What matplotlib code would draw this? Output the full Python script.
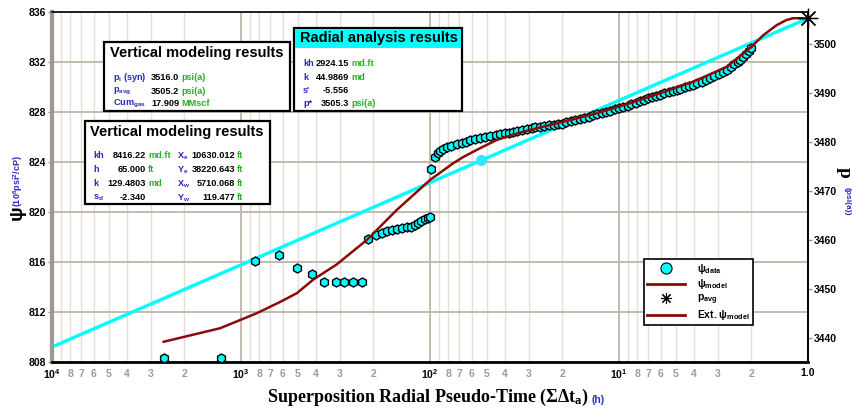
import matplotlib
matplotlib.use('Agg')
import matplotlib.pyplot as plt
from matplotlib.lines import Line2D
from matplotlib.patches import Rectangle
from matplotlib.ticker import FixedLocator

plt.rcParams['font.family'] = ['Liberation Sans', 'DejaVu Sans']
plt.rcParams['font.weight'] = 'bold'
plt.rcParams['mathtext.default'] = 'regular'

# --- data ---
# early-time psi points (t in h, psi in 1e6 psi2/cP)
early_t = [2565, 1271, 843, 632, 506, 423, 362, 315, 284, 255, 228]
early_psi = [808.30, 808.30, 816.08, 816.54, 815.52, 815.06, 814.42, 814.42, 814.42, 814.42, 814.42]

mid_t = [214, 194, 180, 169, 159, 150, 141, 132, 126, 120.5, 115.7, 111.2, 106.7, 102.5, 99.6, 98.4]
mid_psi = [817.82, 818.14, 818.30, 818.48, 818.58, 818.66, 818.72, 818.78, 818.82, 818.96,
           819.14, 819.30, 819.46, 819.54, 819.60, 823.44]

late_t = [94, 91, 88.5, 85, 81.3, 77, 72, 68, 64.5, 61.4, 58, 54.4, 51, 48, 45, 42.6, 40, 38,
          36.4, 34.5, 32.5, 30.5, 29, 27.8, 26.2, 24.8, 23.5, 22.2, 21, 20, 19, 18, 17, 16.1,
          15.3, 14.5, 13.7, 13, 12.3, 11.7, 11.1, 10.5, 10, 9.5, 9.0, 8.6, 8.15, 7.74, 7.35,
          7.0, 6.65, 6.35, 6.07, 5.75, 5.45, 5.2, 4.96, 4.76, 4.5, 4.28, 4.06, 3.85, 3.66,
          3.47, 3.30, 3.13, 2.97, 2.82, 2.68, 2.56, 2.45, 2.36, 2.29, 2.21, 2.13, 2.06, 2.00]
late_psi = [824.42, 824.68, 824.88, 825.02, 825.16, 825.28, 825.40, 825.52, 825.62, 825.72,
            825.80, 825.90, 825.98, 826.06, 826.13, 826.20, 826.28, 826.35, 826.42, 826.50,
            826.57, 826.64, 826.70, 826.76, 826.82, 826.88, 826.93, 826.98, 827.02, 827.07,
            827.16, 827.25, 827.35, 827.44, 827.53, 827.62, 827.72, 827.82, 827.92, 828.02,
            828.11, 828.20, 828.30, 828.40, 828.50, 828.60, 828.74, 828.88, 828.98, 829.08,
            829.19, 829.28, 829.36, 829.48, 829.59, 829.68, 829.76, 829.84, 829.96, 830.06,
            830.16, 830.28, 830.42, 830.56, 830.70, 830.86, 831.03, 831.20, 831.36, 831.58,
            831.80, 831.98, 832.16, 832.40, 832.64, 832.88, 833.10]

model_t = [2565, 1291, 826, 622, 507, 414, 312, 216, 150, 100, 94.1, 75.4, 66.7, 54.4, 44.4,
           36.2, 29.6, 19.7, 13.1, 8.75, 6.07, 4.05, 2.69, 1.99]
model_psi = [809.62, 810.7, 811.9, 812.8, 813.5, 814.6, 815.8, 817.76, 820.16, 822.56, 822.85,
             823.9, 824.4, 825.1, 825.76, 826.2, 826.56, 827.22, 827.9, 828.7, 829.5, 830.42,
             831.62, 833.22]

ext_t = [1.99, 1.72, 1.46, 1.30, 1.20, 1.0]
ext_psi = [833.22, 834.16, 834.96, 835.36, 835.5, 835.5]

# radial straight line and its marker
line_t = [1e4, 1.0]
line_psi = [809.2, 835.5]
mark_t = [54]
mark_psi = [824.16]

pavg_t = [1.0]
pavg_p = [3505.2]

psi_ticks = [808, 812, 816, 820, 824, 828, 832, 836]
p_ticks = [3440, 3450, 3460, 3470, 3480, 3490, 3500]
major_x = [1e4, 1e3, 1e2, 1e1, 1.0]
major_x_labels = ['$10^4$', '$10^3$', '$10^2$', '$10^1$', '1.0']

MODEL = '#8B0A0A'
BLUE = '#2828C8'
GREEN = '#22B422'

W, H = 853, 409
fig = plt.figure(figsize=(W / 100, H / 100), dpi=100)
ax = fig.add_axes([52 / W, 47 / H, 756 / W, 350 / H])

ax.plot(line_t, line_psi, color='cyan', lw=2.4, zorder=2)
ax.plot(mark_t, mark_psi, 'o', color='#30E8FF', ms=8, mec='none', zorder=2)
data_t = early_t + mid_t + late_t
data_psi = early_psi + mid_psi + late_psi
ax.plot(data_t, data_psi, 'h', ls='none', mfc='cyan', mec='black', mew=1.0, ms=6.5, zorder=3)
ax.plot(model_t, model_psi, color=MODEL, lw=1.8, zorder=4)
ax.plot(ext_t, ext_psi, color=MODEL, lw=1.8, zorder=4)

ax.set_xscale('log')
ax.set_xlim(1e4, 1.0)
ax.set_ylim(808, 836)
ax.set_yticks(psi_ticks)
ax.set_xticks(major_x)
ax.set_xticklabels(major_x_labels)
minor_pos, minor_lab = [], []
for d in [1, 10, 100, 1000]:
    for k in range(2, 10):
        minor_pos.append(k * d)
        minor_lab.append(str(k) if k < 9 else '')
ax.xaxis.set_minor_locator(FixedLocator(minor_pos))
ax.set_xticks(minor_pos, minor_lab, minor=True)
ax.tick_params(axis='x', which='both', length=0, pad=5, labelsize=7.5)
ax.tick_params(axis='x', which='major', pad=4)
ax.tick_params(axis='x', which='minor', labelcolor='#9a9a9a')
ax.tick_params(axis='y', length=3, width=1, color='#9E988E', pad=1, labelsize=7.5)
ax.grid(True, which='major', axis='both', color='#BDB6A8', lw=1.3, zorder=0)
ax.grid(True, which='minor', axis='x', color='#E2DED8', lw=1.0, zorder=0)
ax.set_axisbelow(True)
ax.spines['left'].set_color('#9E988E')
ax.spines['left'].set_linewidth(3)
ax.spines['bottom'].set_linewidth(2)
ax.spines['top'].set_linewidth(1.2)
ax.spines['right'].set_linewidth(1.2)

ax2 = ax.twinx()
ax2.set_ylim(3435.0, 3506.5)
ax2.set_yticks(p_ticks)
ax2.tick_params(axis='y', length=3, width=1, color='#9E988E', pad=1, labelsize=7.5)
for s in ['left', 'top', 'bottom']:
    ax2.spines[s].set_visible(False)
ax2.spines['right'].set_linewidth(1.2)
ax2.plot(pavg_t, pavg_p, marker=(8, 2, 0), color='black', ms=14, mew=0.9, ls='none',
         clip_on=False, zorder=5)

handles = [
    Line2D([], [], marker='o', ls='none', mfc='cyan', mec='black', mew=0.8, ms=8),
    Line2D([], [], color=MODEL, lw=2),
    Line2D([], [], marker=(8, 2, 0), ls='none', color='black', ms=8, mew=0.8),
    Line2D([], [], color=MODEL, lw=2),
]
labels = ['ψ$_{data}$', 'ψ$_{model}$', 'p$_{avg}$', 'Ext. ψ$_{model}$']
leg = ax2.legend(handles, labels, loc='upper left', bbox_to_anchor=(644 / W, 1 - 259 / H),
                 bbox_transform=fig.transFigure, borderaxespad=0, fancybox=False,
                 edgecolor='black', framealpha=1, fontsize=7.5, handlelength=3.6,
                 labelspacing=0.12, borderpad=0.3, handletextpad=1.2)
leg.get_frame().set_linewidth(1.2)

# overlay in pixel coordinates for text boxes and axis titles
ov = fig.add_axes([0, 0, 1, 1], zorder=10)
ov.set_xlim(0, W)
ov.set_ylim(H, 0)
ov.axis('off')


def txt(x, y, s, color='black', size=6.6, ha='left', **kw):
    ov.text(x, y, s, color=color, fontsize=size, ha=ha, va='center', fontweight='bold', **kw)


def frame(x0, y0, x1, y1):
    ov.add_patch(Rectangle((x0, y0), x1 - x0, y1 - y0, fc='white', ec='black', lw=1.6))


# box A
frame(104, 42, 290, 111)
txt(110, 53, 'Vertical modeling results', size=10.5)
rowsA = [(77, 'p$_i$ (syn)', '3516.0', 'psi(a)'),
         (91, 'p$_{avg}$', '3505.2', 'psi(a)'),
         (104, 'Cum$_{gas}$', '17.909', 'MMscf')]
for y, lab, val, unit in rowsA:
    txt(113, y, lab, BLUE)
    txt(151, y, val)
    txt(181, y, unit, GREEN)

# box B
frame(85, 121, 270, 204)
txt(90, 132, 'Vertical modeling results', size=10.5)
rowsB = [(156, 'kh', '8416.22', 'md.ft', 'X$_e$', '10630.012'),
         (170, 'h', '65.000', 'ft', 'Y$_e$', '38220.643'),
         (184, 'k', '129.4803', 'md', 'X$_w$', '5710.068'),
         (198, 's$_d$', '-2.340', '', 'Y$_w$', '119.477')]
for y, l1, v1, u1, l2, v2 in rowsB:
    txt(93, y, l1, BLUE)
    txt(146, y, v1, ha='right')
    txt(148, y, u1, GREEN)
    txt(177, y, l2, BLUE)
    txt(235, y, v2, ha='right')
    txt(237, y, 'ft', GREEN)

# box C
frame(294, 28, 462, 111)
ov.add_patch(Rectangle((295, 29), 166, 19, fc='cyan', ec='none'))
txt(300, 38, 'Radial analysis results', size=10.5)
rowsC = [(63, 'kh', '2924.15', 'md.ft'),
         (77, 'k', '44.9869', 'md'),
         (90.5, "s'", '-5.556', ''),
         (104, 'p*', '3505.3', 'psi(a)')]
for y, lab, val, unit in rowsC:
    txt(303, y, lab, BLUE)
    txt(349, y, val, ha='right')
    txt(351, y, unit, GREEN)

# axis titles
txt(17, 213, 'ψ', size=14, ha='center', rotation=90)
txt(18, 181, '(10$^6$psi$^2$/cP)', BLUE, size=6.5, ha='center', rotation=90)
txt(844, 172, 'p', size=14, ha='center', rotation=-90, family='Liberation Serif')
txt(847, 201, '(psi(a))', BLUE, size=6, ha='center', rotation=-90)
txt(589, 397, 'Superposition Radial Pseudo-Time (ΣΔt$_a$)', size=13, ha='right',
    family='Liberation Serif')
txt(592, 400, '(h)', BLUE, size=7.5)

fig.savefig('out.png', dpi=100)
